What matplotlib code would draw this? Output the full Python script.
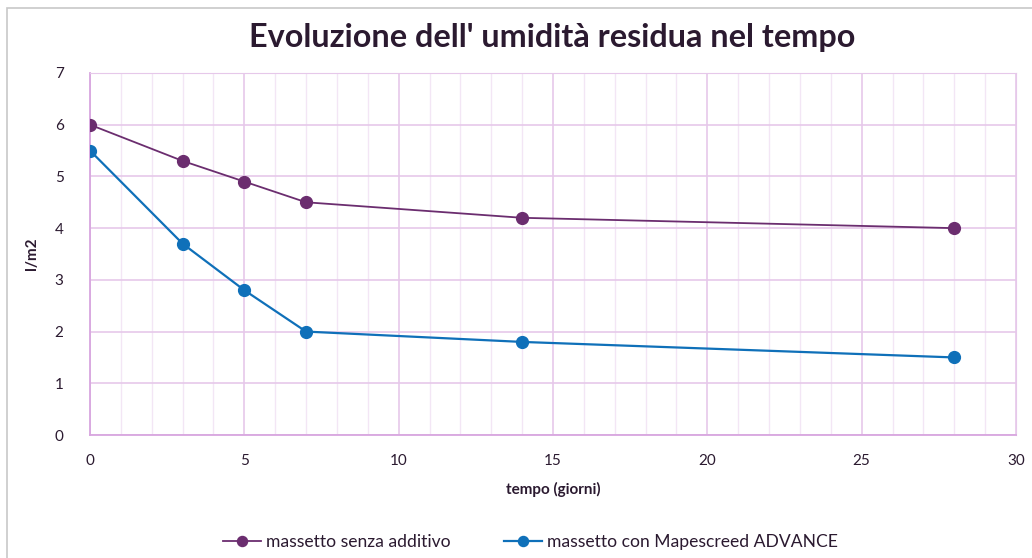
import matplotlib.pyplot as plt
from matplotlib.patches import Rectangle

plt.rcParams['font.family'] = ['Lato', 'DejaVu Sans']

giorni = [0, 3, 5, 7, 14, 28]
senza_additivo = [6.0, 5.3, 4.9, 4.5, 4.2, 4.0]
con_advance = [5.5, 3.7, 2.8, 2.0, 1.8, 1.5]
x_ticks = [0, 5, 10, 15, 20, 25, 30]
y_ticks = [0, 1, 2, 3, 4, 5, 6, 7]

viola = '#6b2d6f'
blu = '#0f70b9'
testo = '#2b1a30'

fig = plt.figure(figsize=(10.32, 5.58), dpi=100)
ax = fig.add_axes([0.0872, 0.2204, 0.8973, 0.6488])

ax.plot(giorni, senza_additivo, color=viola, lw=1.3, marker='o', markersize=8.5,
        label='massetto senza additivo', zorder=3)
ax.plot(giorni, con_advance, color=blu, lw=1.6, marker='o', markersize=8.5,
        label='massetto con Mapescreed ADVANCE', zorder=3)

ax.set_xlim(0, 30)
ax.set_ylim(0, 7)
ax.set_xticks(x_ticks)
ax.set_yticks(y_ticks)
ax.set_xticks(range(0, 31), minor=True)
ax.grid(True, which='major', color='#e6c8ea', lw=1.2, zorder=0)
ax.grid(True, which='minor', axis='x', color='#f3e6f5', lw=1.0, zorder=0)
ax.tick_params(which='both', length=0)
ax.tick_params(axis='x', pad=14, labelsize=11, labelcolor=testo)
ax.tick_params(axis='y', pad=19, labelsize=11, labelcolor=testo)
for s in ['top', 'right']:
    ax.spines[s].set_color('#e6c8ea')
for s in ['left', 'bottom']:
    ax.spines[s].set_color('#d8a6df')
    ax.spines[s].set_linewidth(1.3)

ax.set_xlabel('tempo (giorni)', fontsize=11, fontweight='bold', color=testo, labelpad=10)
ax.set_ylabel('l/m2', fontsize=11, fontweight='bold', color=testo, labelpad=11)

fig.text(0.535, 0.932, "Evoluzione dell' umidità residua nel tempo", ha='center', va='center',
         fontsize=23.3, fontweight='bold', color=testo)

fig.legend(loc='center', bbox_to_anchor=(0.514, 0.028), ncol=2, frameon=False,
           fontsize=12.6, handlelength=2.2, handletextpad=0.3, columnspacing=3.0,
           markerscale=0.85, labelcolor=testo)

# bordo grigio del riquadro
fig.add_artist(Rectangle((0.0068, -0.05), 1.2, 1.036, transform=fig.transFigure,
                         fill=False, edgecolor='#c8c8c8', lw=1.2))

fig.savefig('out.png', dpi=100)
